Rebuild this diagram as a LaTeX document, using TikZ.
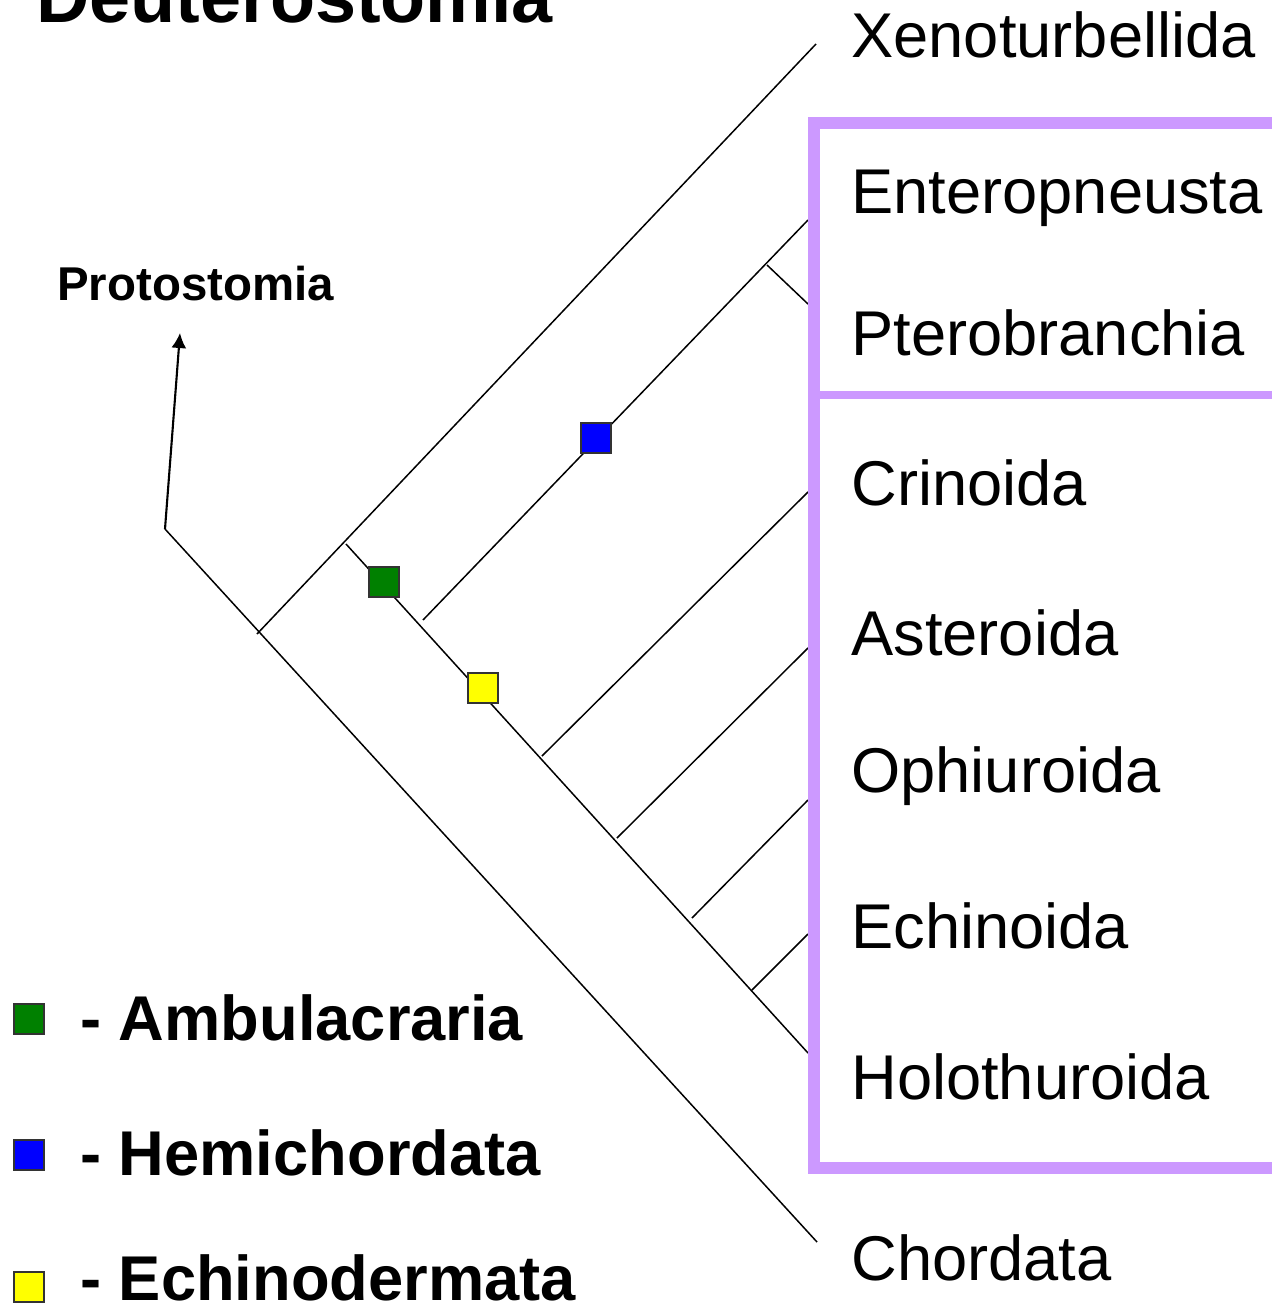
\documentclass[tikz,border=0pt]{standalone}
\usepackage{fontspec}
\setmainfont{Liberation Sans}
\usetikzlibrary{arrows.meta}
\definecolor{boxpurple}{HTML}{CC99FF}
\definecolor{mkgreen}{HTML}{008000}
\definecolor{mkblue}{HTML}{0000FF}
\definecolor{mkyellow}{HTML}{FFFF00}
\begin{document}
\begin{tikzpicture}[x=0.02cm,y=-0.02cm,
  branch/.style={line width=0.85pt,black},
  taxon/.style={anchor=base west,inner sep=0pt,font=\fontsize{36}{43}\selectfont},
  legtext/.style={anchor=base west,inner sep=0pt,font=\fontsize{36}{43}\selectfont\bfseries},
  marker/.style={draw=black!80,line width=0.9pt,minimum size=0.6cm,inner sep=0pt},
  purpleline/.style={boxpurple,line width=6.8pt},
  divline/.style={boxpurple,line width=4.5pt}]
\useasboundingbox (0,0) rectangle (1272,1305);
% title
\node[anchor=base west,inner sep=0pt,font=\fontsize{42}{50}\selectfont\bfseries] (title) at (36,22) {Deuterostomia};
% tree coordinates
\coordinate (proto) at (180,333);
\coordinate (root) at (165,529);
\coordinate (n1) at (257,634);
\coordinate (chord) at (817,1242);
\coordinate (xeno) at (816,44);
\coordinate (n2) at (346,544);
\coordinate (holo) at (808,1053);
\coordinate (hemi) at (423,620);
\coordinate (entero) at (808,220);
\coordinate (nptero) at (767,265);
\coordinate (ptero) at (808,304);
\coordinate (ncrin) at (542,756);
\coordinate (crin) at (808,492);
\coordinate (nast) at (617,838);
\coordinate (ast) at (808,648);
\coordinate (noph) at (692,918);
\coordinate (oph) at (808,800);
\coordinate (nech) at (752,990);
\coordinate (ech) at (808,934);
% branches
\draw[-{Latex[length=0.3cm,width=0.3cm]},line width=1.2pt] (root) -- (proto);
\draw[branch] (root) -- (chord);
\draw[branch] (n1) -- (xeno);
\draw[branch] (n2) -- (holo);
\draw[branch] (hemi) -- (entero);
\draw[branch] (nptero) -- (ptero);
\draw[branch] (ncrin) -- (crin);
\draw[branch] (nast) -- (ast);
\draw[branch] (noph) -- (oph);
\draw[branch] (nech) -- (ech);
% markers on tree
\node[marker,fill=mkgreen] (mg) at (384,582) {};
\node[marker,fill=mkblue] (mb) at (596,438) {};
\node[marker,fill=mkyellow] (my) at (483,688) {};
% purple box
\draw[purpleline] (814,117) -- (814,1174);
\draw[purpleline] (808,123) -- (1272,123);
\draw[purpleline] (808,1168) -- (1272,1168);
\draw[divline] (814,395) -- (1272,395);
% labels
\node[anchor=base west,inner sep=0pt,font=\fontsize{27}{32}\selectfont\bfseries] (protolab) at (57,300) {Protostomia};
\node[taxon] (lxeno) at (851,57) {Xenoturbellida};
\node[taxon] (lentero) at (851,213) {Enteropneusta};
\node[taxon] (lptero) at (851,355) {Pterobranchia};
\node[taxon] (lcrin) at (851,505) {Crinoida};
\node[taxon] (last) at (851,655) {Asteroida};
\node[taxon] (loph) at (851,792) {Ophiuroida};
\node[taxon] (lech) at (851,948) {Echinoida};
\node[taxon] (lholo) at (851,1099) {Holothuroida};
\node[taxon] (lchord) at (851,1280) {Chordata};
% legend
\node[marker,fill=mkgreen] (lg) at (29,1019) {};
\node[marker,fill=mkblue] (lb) at (29,1155) {};
\node[marker,fill=mkyellow] (ly) at (29,1287) {};
\node[legtext] (tg) at (80,1040) {- Ambulacraria};
\node[legtext] (tb) at (80,1175) {- Hemichordata};
\node[legtext] (ty) at (80,1300) {- Echinodermata};
\end{tikzpicture}
\end{document}
